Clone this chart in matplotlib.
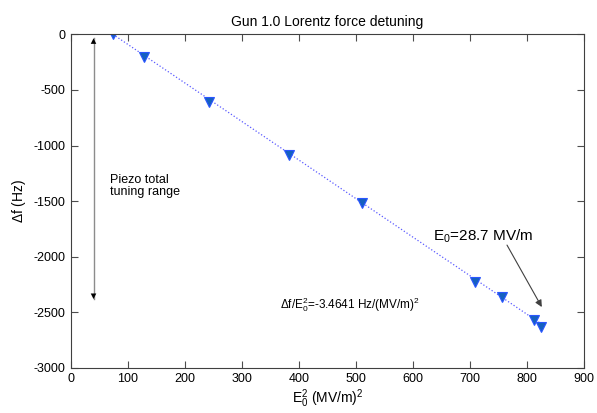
import matplotlib
matplotlib.use("Agg")
import matplotlib.pyplot as plt

plt.rcParams["font.family"] = ["Liberation Sans", "DejaVu Sans"]
plt.rcParams["mathtext.fontset"] = "custom"
plt.rcParams["mathtext.rm"] = "Liberation Sans"
plt.rcParams["mathtext.it"] = "Liberation Sans"
plt.rcParams["axes.unicode_minus"] = False

# measured points: E0^2 (MV/m)^2 vs detuning (Hz)
e2 = [74, 129, 242, 383, 511, 709, 757, 812, 824]
df = [0, -201, -606, -1085, -1517, -2225, -2360, -2569, -2629]

# linear fit line end points
fit_x = [74, 824]
fit_y = [0, -2600]

TITLE = "Gun 1.0 Lorentz force detuning"
XTICKS = [0, 100, 200, 300, 400, 500, 600, 700, 800, 900]
YTICKS = [-3000, -2500, -2000, -1500, -1000, -500, 0]

fig = plt.figure(figsize=(5.97, 4.13), dpi=100)
ax = fig.add_axes([70.7 / 597, 1 - 368 / 413, (584 - 70.7) / 597, (368 - 34.3) / 413])

ax.plot(fit_x, fit_y, linestyle=":", color="#5a5aff", lw=0.9)
ax.plot(e2, df, linestyle="none", marker="v", markersize=7.5,
        markerfacecolor="#1560c0", markeredgecolor="#2a55ff", markeredgewidth=0.8)

# piezo tuning range arrow
ax.plot([40, 40], [-2380, -36], color="0.55", lw=1.0)
ax.annotate("", xy=(40, -36), xytext=(40, -300),
            arrowprops=dict(arrowstyle="-|>", color="black", lw=0.0,
                            mutation_scale=10, shrinkA=0, shrinkB=0))
ax.annotate("", xy=(40, -2380), xytext=(40, -2100),
            arrowprops=dict(arrowstyle="-|>", color="black", lw=0.0,
                            mutation_scale=10, shrinkA=0, shrinkB=0))
ax.text(69, -1364, "Piezo total\ntuning range", fontsize=9,
        ha="left", va="center", linespacing=1.1)

# E0 annotation
ax.annotate("", xy=(826, -2452), xytext=(765, -1895),
            arrowprops=dict(arrowstyle="-|>", color="0.25", lw=0.8,
                            mutation_scale=10, shrinkA=0, shrinkB=0))
ax.text(636, -1820, r"E$_0$=28.7 MV/m", fontsize=11, ha="left", va="center")

ax.text(367, -2434, r"$\Delta$f/E$_0^2$=-3.4641 Hz/(MV/m)$^2$", fontsize=8.5,
        ha="left", va="center")

ax.set_xlim(0, 900)
ax.set_ylim(-3000, 0)
ax.set_xticks(XTICKS)
ax.set_yticks(YTICKS)
ax.tick_params(direction="in", top=True, right=True, length=5, width=0.8,
               labelsize=9, color="0.3")
for s in ax.spines.values():
    s.set_color("0.25")
    s.set_linewidth(0.8)

ax.set_title(TITLE, fontsize=10, pad=6)
ax.set_xlabel(r"E$_0^2$ (MV/m)$^2$", fontsize=10, labelpad=2)
ax.set_ylabel(r"$\Delta$f (Hz)", fontsize=10, labelpad=4)

fig.savefig("out.png", dpi=100, facecolor="white")
